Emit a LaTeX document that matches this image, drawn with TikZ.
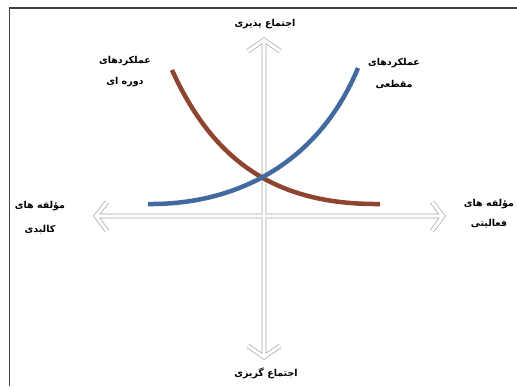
\documentclass[tikz,border=0pt]{standalone}
\usepackage{fontspec}
\newfontfamily\fa[Script=Arabic]{DejaVu Sans Bold}
\TeXXeTstate=1
\definecolor{brownc}{HTML}{8E4530}
\definecolor{bluec}{HTML}{426A9E}
\definecolor{framec}{HTML}{404040}
\begin{document}
\begin{tikzpicture}[x=1pt,y=-1pt,
  axis/.style={draw=gray!70, line width=0.7pt, double=white, double distance=3.2pt, line join=miter, miter limit=20},
  curveline/.style={line width=4.5pt},
  lbl/.style={font=\fa\fontsize{9.5}{11.5}\selectfont, inner sep=0pt, align=center}]
\useasboundingbox (0,0) rectangle (517,386);
% frame
\draw[framec, line width=1.3pt] (9.5,386) -- (9.5,8) -- (517,8);
% axis coordinates
\coordinate (vt) at (264,40);
\coordinate (vb) at (264,357);
\coordinate (vtl) at (248,51);
\coordinate (vtr) at (280,51);
\coordinate (vbl) at (248,346);
\coordinate (vbr) at (280,346);
\coordinate (hl) at (96,216);
\coordinate (hr) at (443,216);
\coordinate (hlt) at (107,202);
\coordinate (hlb) at (107,231);
\coordinate (hrt) at (432,202);
\coordinate (hrb) at (432,231);
% axes
\draw[axis] (vt) -- (vb) (vtl) -- (vt) -- (vtr) (vbl) -- (vb) -- (vbr)
  (hl) -- (hr) (hlt) -- (hl) -- (hlb) (hrt) -- (hr) -- (hrb);
% curves
\coordinate (bs) at (172,70);
\coordinate (be) at (380,204);
\coordinate (us) at (148,204);
\coordinate (ue) at (358,68);
\draw[curveline, brownc] (bs) .. controls (215,165) and (280,205) .. (be);
\draw[curveline, bluec] (us) .. controls (240,205) and (320,160) .. (ue);
% labels
\node[lbl] (top) at (265,24) {\beginR اجتماع پذیری\endR};
\node[lbl] (bot) at (266,373) {\beginR اجتماع گریزی\endR};
\node[lbl] (left) at (40,218) {\beginR مؤلفه های\endR\\[12.5pt]\beginR کالبدی\endR};
\node[lbl] (right) at (489,214) {\beginR مؤلفه های\endR\\[8.5pt]\beginR فعالیتی\endR};
\node[lbl] (cl) at (125,71.5) {\beginR عملکردهای\endR\\[9.5pt]\beginR دوره ای\endR};
\node[lbl] (cr) at (394,73) {\beginR عملکردهای\endR\\[10.5pt]\beginR مقطعی\endR};
\end{tikzpicture}
\end{document}
